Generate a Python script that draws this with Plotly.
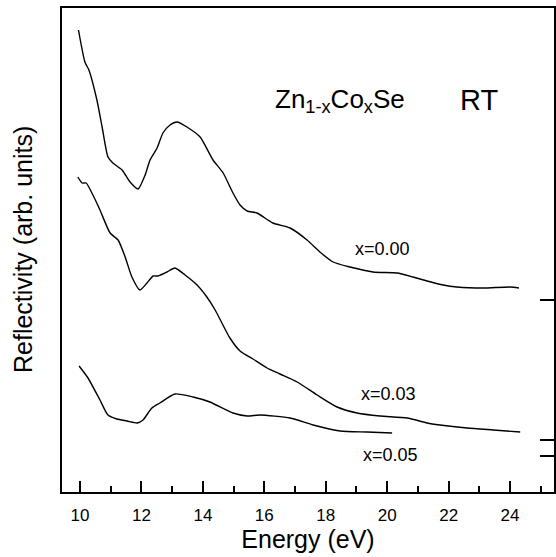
import plotly.graph_objects as go

# Energy (eV) and reflectivity (arb. units)
energy_000 = [9.95, 10.16, 10.29, 10.55, 10.72, 10.91, 11.07, 11.37, 11.63, 11.89, 12.12, 12.28,
              12.51, 12.70, 12.93, 13.16, 13.48, 13.91, 14.33, 14.66, 14.98, 15.21, 15.44, 15.76,
              16.28, 16.84, 17.39, 17.81, 18.24, 18.79, 19.54, 20.32, 20.84, 21.30, 21.82, 22.27,
              23.12, 24.00, 24.29]
refl_000 = [462, 430, 422, 392, 365, 335, 329, 322, 310, 303, 317, 332,
            344, 359, 367, 370, 365, 355, 332, 319, 299, 287, 281, 279,
            269, 264, 252, 240, 230, 225, 220, 219, 215, 211, 207, 205,
            204, 205, 204]

energy_003 = [9.93, 10.07, 10.20, 10.42, 10.65, 10.98, 11.24, 11.47, 11.69, 11.95, 12.18, 12.38,
              12.54, 12.83, 13.09, 13.42, 13.81, 14.13, 14.40, 14.88, 15.21, 15.63, 16.09, 16.51,
              17.07, 17.72, 18.37, 19.02, 19.77, 20.65, 21.30, 21.72, 22.60, 23.45, 24.33]
refl_003 = [315, 309, 309, 297, 282, 259, 252, 235, 215, 202, 209, 216,
            216, 220, 224, 217, 207, 195, 182, 154, 141, 133, 124, 118,
            110, 97, 85, 79, 76, 74, 69, 67, 64, 62, 60]

energy_005 = [9.97, 10.26, 10.65, 10.91, 11.20, 11.53, 11.86, 12.05, 12.34, 12.60, 13.09, 13.68,
              14.23, 14.98, 15.44, 15.86, 16.84, 17.59, 18.47, 19.34, 20.16]
refl_005 = [126, 114, 92, 77, 73, 71, 69, 72, 84, 89, 98, 95,
            90, 79, 76, 77, 74, 67, 61, 60, 59]

baselines = [192, 52, 36]          # zero-level marks on the right axis
x_major_ticks = [10, 12, 14, 16, 18, 20, 22, 24]
curve_labels = ["x=0.00", "x=0.03", "x=0.05"]

FONT = "Liberation Sans, Arial, Helvetica, sans-serif"
W, H = 556, 557
L, R, T, B = 62, 2, 8, 65

def px(xp):
    return (xp - L) / (W - L - R)

def py(yp):
    return (H - B - yp) / (H - T - B)

fig = go.Figure()
for e, r in [(energy_000, refl_000), (energy_003, refl_003), (energy_005, refl_005)]:
    fig.add_trace(go.Scatter(x=e, y=r, mode="lines", line=dict(color="black", width=1.4,
                                                                  shape="spline", smoothing=0.6),
                             showlegend=False, hoverinfo="skip"))

fig.update_layout(
    width=W, height=H,
    margin=dict(l=L, r=R, t=T, b=B),
    paper_bgcolor="white", plot_bgcolor="white",
    font=dict(family=FONT, color="black"),
    xaxis=dict(
        range=[9.414, 25.43],
        tickvals=x_major_ticks,
        ticktext=[str(v) for v in x_major_ticks],
        ticks="inside", ticklen=11, tickwidth=1.5, tickcolor="black",
        minor=dict(ticks="inside", ticklen=6, tickwidth=1.5, tickcolor="black", dtick=1, tick0=9),
        showline=True, linewidth=2, linecolor="black", mirror=True,
        showgrid=False, zeroline=False,
        tickfont=dict(size=17, family=FONT),
        ticklabelstandoff=7,
        title=dict(text="Energy (eV)", font=dict(size=25, family=FONT), standoff=2),
    ),
    yaxis=dict(
        range=[0, 484],
        side="right",
        tickvals=baselines,
        ticks="inside", ticklen=14, tickwidth=1.5, tickcolor="black",
        showticklabels=False,
        showline=True, linewidth=2, linecolor="black", mirror=True,
        showgrid=False, zeroline=False,
    ),
)

# y-axis title on the left (axis sits on the right for the baseline marks)
fig.add_annotation(text="Reflectivity (arb. units)", xref="paper", yref="paper",
                   x=px(23), y=0.5, textangle=-90, showarrow=False,
                   font=dict(size=25, family=FONT), xanchor="center", yanchor="middle")

fig.add_annotation(text="Zn<sub>1-x</sub>Co<sub>x</sub>Se", xref="paper", yref="paper",
                   x=px(273), y=py(101), showarrow=False, xanchor="left", yanchor="middle",
                   font=dict(size=26, family=FONT))
fig.add_annotation(text="RT", xref="paper", yref="paper",
                   x=px(479), y=py(100), showarrow=False, xanchor="center", yanchor="middle",
                   font=dict(size=29, family=FONT))

for lab, (cx, cy) in zip(curve_labels, [(382, 249), (388, 394), (390, 455)]):
    fig.add_annotation(text=lab, xref="paper", yref="paper", x=px(cx), y=py(cy),
                       showarrow=False, xanchor="center", yanchor="middle",
                       font=dict(size=18, family=FONT))

fig.write_html("out.html")
